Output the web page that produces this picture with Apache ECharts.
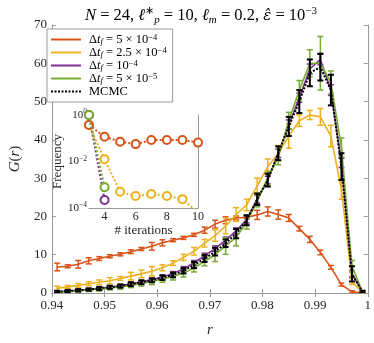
<!DOCTYPE html>
<html><head><meta charset="utf-8">
<script src="https://cdn.jsdelivr.net/npm/echarts@6/dist/echarts.min.js"></script>
<style>html,body{margin:0;padding:0;background:#fff}#c{width:374px;height:343px}</style>
</head><body><div id="c"></div>
<script>
// ---- data ----
const r = [0.941,0.943,0.945,0.947,0.949,0.951,0.953,0.955,0.957,0.959,0.961,0.963,0.965,0.967,0.969,0.971,0.973,0.975,0.977,0.979,0.981,0.983,0.985,0.987,0.989,0.991,0.993,0.995,0.997,0.999];
const gOrange = [6.8,7.0,7.5,8.4,9.0,9.6,10.1,10.8,11.5,12.2,13.1,13.8,14.4,15.2,16.4,18.0,19.0,19.6,19.8,20.4,21.3,20.5,19.6,16.8,14.0,10.6,6.7,2.2,0.3,0.0];
const eOrange = [1.0,0.4,1.0,0.8,0.5,0.4,0.4,0.5,0.4,1.0,0.8,0.4,0.4,0.4,0.8,1.0,0.9,0.5,0.4,1.2,1.2,1.2,0.9,0.6,0.8,0.6,0.5,0.4,0.3,0.1];
const gYellow = [1.2,1.6,2.0,2.4,2.8,3.2,3.8,4.4,5.0,5.7,6.6,7.8,9.3,10.9,13.0,15.0,17.5,20.5,23.0,28.0,33.0,36.5,41.0,45.0,46.5,46.0,41.0,27.0,3.0,0.1];
const eYellow = [0.6,0.4,0.5,0.5,0.6,0.8,0.5,1.0,1.0,1.2,0.8,0.6,0.8,1.0,1.0,1.5,2.0,1.8,1.5,2.0,2.0,2.0,3.2,1.5,1.2,2.2,2.8,2.5,0.8,0.1];
const gPurple = [0.3,0.5,0.7,0.9,1.2,1.5,1.9,2.4,2.9,3.5,4.2,5.1,6.3,7.9,9.7,11.6,13.8,16.2,19.2,24.5,29.5,36.5,44.0,51.0,58.5,61.0,53.0,34.0,5.0,0.3];
const ePurple = [0.2,0.2,0.3,0.3,0.3,0.3,0.4,0.4,0.4,0.5,0.5,0.5,0.6,0.6,0.7,0.7,0.8,0.8,0.9,1.0,1.0,1.1,1.2,1.2,1.3,1.4,1.4,1.2,0.8,0.2];
const gGreen = [0.2,0.4,0.6,0.8,1.0,1.3,1.6,2.0,2.5,3.0,3.6,4.3,5.2,6.5,8.3,10.0,12.3,14.5,18.5,24.0,30.0,35.5,45.0,53.0,60.0,60.0,55.0,38.0,7.0,0.3];
const eGreen = [0.3,0.3,0.4,0.4,0.5,0.5,0.6,0.6,0.7,0.8,0.8,0.9,1.0,1.0,1.2,1.8,2.2,2.2,1.8,1.5,1.8,2.0,2.2,2.5,3.5,7.0,3.0,2.5,1.5,0.3];
const gBlack = [0.3,0.5,0.7,0.9,1.2,1.5,1.8,2.3,2.8,3.3,4.0,4.7,5.8,7.3,9.0,10.8,13.0,15.5,19.0,24.5,29.5,36.5,43.5,50.0,57.5,59.0,53.0,33.0,5.0,0.3];
const eBlack = [0.3,0.3,0.3,0.3,0.4,0.4,0.4,0.5,0.5,0.5,0.6,0.6,0.7,0.8,0.9,1.0,1.0,1.2,1.3,1.5,1.7,1.8,2.5,3.0,3.5,3.5,4.0,3.5,2.0,0.3];

const xTicks = [0.94,0.95,0.96,0.97,0.98,0.99,1];
const yTicks = [0,10,20,30,40,50,60,70];

// inset
const iters = [3,4,5,6,7,8,9,10];
const itTicks = [4,6,8,10];
const fTicks = [1e-4,1e-2,1];
const fOrange = [0.37,0.117,0.071,0.056,0.084,0.084,0.084,0.065];
const fYellow = [0.37,0.0124,5.0e-4,3.3e-4,4.0e-4,3.3e-4,2.4e-4,6.5e-5];
const fPurple = [1.0,2.2e-4];
const fGreen = [1.0,7.8e-4];

const C = {o:'#D95319', y:'#EDB120', p:'#7E2F8E', g:'#77AC30', k:'#000000'};
const FF = 'Liberation Serif';
const AX = '#9a9a9a';
const TXT = '#262626';

const chart = echarts.init(document.getElementById('c'), null, {renderer:'canvas'});

function errSeries(vals, errs, color, width, z) {
  return {
    type:'custom', name:'_e', xAxisIndex:0, yAxisIndex:0, z:z, clip:true, silent:true,
    data: r.map((x,i)=>[x, vals[i], errs[i]]),
    encode:{x:0,y:1},
    renderItem: function(params, api){
      const x = api.value(0), v = api.value(1), e = api.value(2);
      const t = api.coord([x, v+e]), b = api.coord([x, v-e]);
      const hw = 3;
      const st = {stroke: color, lineWidth: width, fill: null};
      return {type:'group', children:[
        {type:'line', shape:{x1:t[0],y1:t[1],x2:b[0],y2:b[1]}, style:st},
        {type:'line', shape:{x1:t[0]-hw,y1:t[1],x2:t[0]+hw,y2:t[1]}, style:st},
        {type:'line', shape:{x1:b[0]-hw,y1:b[1],x2:b[0]+hw,y2:b[1]}, style:st}
      ]};
    }
  };
}
function lineSeries(name, vals, color, width, type, z) {
  return {type:'line', name:name, xAxisIndex:0, yAxisIndex:0, z:z,
    data: r.map((x,i)=>[x, vals[i]]), symbol:'none', smooth:false, clip:true,
    lineStyle:{color:color, width:width, type:type}, itemStyle:{color:color}};
}
function insetSeries(vals, color, z) {
  return {type:'line', name:'_i', xAxisIndex:2, yAxisIndex:2, z:z, clip:true,
    data: vals.map((v,i)=>[iters[i], v]), symbol:'emptyCircle', symbolSize:8,
    lineStyle:{color:color, width:2, type:[2,2]}, itemStyle:{color:color, borderColor:color, borderWidth:1.6}};
}

const sup = (s)=>'{sup|'+s+'}';
const legendNames = {
  s1: '{d|Δ}{i|t}{sub|f}{n| = 5 × 10}'+sup('−4'),
  s2: '{d|Δ}{i|t}{sub|f}{n| = 2.5 × 10}'+sup('−4'),
  s3: '{d|Δ}{i|t}{sub|f}{n| = 10}'+sup('−4'),
  s4: '{d|Δ}{i|t}{sub|f}{n| = 5 × 10}'+sup('−5'),
  s5: '{d|MCMC}'
};

const tickLabel = {fontFamily:FF, fontSize:13, color:TXT};

const option = {
  animation:false,
  backgroundColor:'#fff',
  title:{
    text:'{i|N}{n| = 24, }{i|ℓ}{sup|∗}{sub|p}{n| = 10, }{i|ℓ}{sub|m}{n| = 0.2, }{e|ε̂}{n| = 10}{sup|−3}',
    left:80, top:1,
    textStyle:{fontFamily:FF, fontSize:16.5, fontWeight:'normal', color:'#000', lineHeight:20,
      rich:{
        n:{fontFamily:FF, fontSize:16.5, lineHeight:20, color:'#000'},
        i:{fontFamily:FF, fontSize:16.5, fontStyle:'italic', lineHeight:20, color:'#000'},
        e:{fontFamily:'DejaVu Serif', fontSize:15, fontStyle:'italic', lineHeight:20, color:'#000'},
        sup:{fontFamily:FF, fontSize:11, lineHeight:10, verticalAlign:'top', color:'#000'},
        sub:{fontFamily:FF, fontSize:11, fontStyle:'italic', lineHeight:10, verticalAlign:'bottom', color:'#000'}
      }}
  },
  legend:{
    data:['s1','s2','s3','s4','s5'], orient:'vertical', left:47, top:29,
    padding:[4,6,4,3], itemGap:0, itemWidth:30, itemHeight:13,
    backgroundColor:'#fff', borderColor:AX, borderWidth:1,
    itemStyle:{opacity:0, borderWidth:0},
    formatter:(n)=>legendNames[n],
    textStyle:{fontFamily:FF, fontSize:12.5, color:'#000', lineHeight:13,
      rich:{
        n:{fontFamily:FF, fontSize:12.5, lineHeight:13, color:'#000'},
        d:{fontFamily:FF, fontSize:12.5, lineHeight:13, color:'#000', padding:[0,0,0,3]},
        i:{fontFamily:FF, fontSize:12.5, fontStyle:'italic', lineHeight:13, color:'#000'},
        sup:{fontFamily:FF, fontSize:8.5, lineHeight:7, verticalAlign:'top', color:'#000'},
        sub:{fontFamily:FF, fontSize:8.5, fontStyle:'italic', lineHeight:7, verticalAlign:'bottom', color:'#000'}
      }}
  },
  grid:[
    {left:41, top:25, width:329, height:273, show:false},
    {left:89, top:115, width:109, height:93, show:true, backgroundColor:'#fff', borderWidth:0, z:3}
  ],
  xAxis:[
    {type:'value', gridIndex:0, min:0.94, max:1, interval:0.01, position:'bottom',
      name:'r', nameLocation:'middle', nameGap:30,
      nameTextStyle:{fontFamily:FF, fontSize:15, fontStyle:'italic', color:TXT},
      axisLine:{show:true, lineStyle:{color:AX, width:1}},
      axisTick:{show:true, inside:true, length:4, lineStyle:{color:AX}},
      axisLabel:{...tickLabel, margin:6, formatter:(v)=>Math.abs(v-1)<1e-9?'1':v.toFixed(2)},
      splitLine:{show:false}},
    {type:'value', gridIndex:0, min:0.94, max:1, interval:0.01, position:'top',
      axisLine:{show:true, lineStyle:{color:AX, width:1}},
      axisTick:{show:true, inside:true, length:4, lineStyle:{color:AX}},
      axisLabel:{show:false}, splitLine:{show:false}},
    {type:'value', gridIndex:1, min:3, max:10, position:'bottom',
      name:'# iterations', nameLocation:'middle', nameGap:16,
      nameTextStyle:{fontFamily:FF, fontSize:13, color:TXT},
      axisLine:{show:true, lineStyle:{color:AX, width:1}},
      axisTick:{show:true, inside:true, length:3, lineStyle:{color:AX}, customValues:itTicks},
      axisLabel:{fontFamily:FF, fontSize:12, color:TXT, margin:3, customValues:itTicks},
      splitLine:{show:false}},
    {type:'value', gridIndex:1, min:3, max:10, position:'top',
      axisLine:{show:true, lineStyle:{color:AX, width:1}},
      axisTick:{show:true, inside:true, length:3, lineStyle:{color:AX}, customValues:itTicks},
      axisLabel:{show:false}, splitLine:{show:false}}
  ],
  yAxis:[
    {type:'value', gridIndex:0, min:0, max:70, interval:10, position:'left',
      name:'{i|G}{n|(}{i|r}{n|)}', nameLocation:'middle', nameGap:27, nameRotate:90,
      nameTextStyle:{fontFamily:FF, fontSize:15, color:TXT,
        rich:{i:{fontFamily:FF, fontSize:15, fontStyle:'italic', color:TXT}, n:{fontFamily:FF, fontSize:15, color:TXT}}},
      axisLine:{show:true, lineStyle:{color:AX, width:1}},
      axisTick:{show:true, inside:true, length:4, lineStyle:{color:AX}},
      axisLabel:{...tickLabel, margin:5}, splitLine:{show:false}},
    {type:'value', gridIndex:0, min:0, max:70, interval:10, position:'right',
      axisLine:{show:true, lineStyle:{color:AX, width:1}},
      axisTick:{show:true, inside:true, length:4, lineStyle:{color:AX}},
      axisLabel:{show:false}, splitLine:{show:false}},
    {type:'log', logBase:10, gridIndex:1, min:1e-4, max:1, position:'left',
      name:'Frequency', nameLocation:'middle', nameGap:19, nameRotate:90,
      nameTextStyle:{fontFamily:FF, fontSize:13, color:TXT},
      axisLine:{show:true, lineStyle:{color:AX, width:1}},
      axisTick:{show:true, inside:true, length:3, lineStyle:{color:AX}},
      axisLabel:{fontFamily:FF, fontSize:11, color:TXT, margin:2, customValues:fTicks,
        formatter:(v)=>'{n|10}{sup|'+String(Math.round(Math.log10(v))).replace('-','−')+'}',
        rich:{n:{fontFamily:FF, fontSize:11, lineHeight:13, color:TXT}, sup:{fontFamily:FF, fontSize:7.5, lineHeight:7, verticalAlign:'top', color:TXT}}},
      splitLine:{show:false}},
    {type:'log', logBase:10, gridIndex:1, min:1e-4, max:1, position:'right',
      axisLine:{show:true, lineStyle:{color:AX, width:1}},
      axisTick:{show:true, inside:true, length:3, lineStyle:{color:AX}},
      axisLabel:{show:false}, splitLine:{show:false}}
  ],
  series:[
    lineSeries('s1', gOrange, C.o, 1.6, 'solid', 2),
    errSeries(gOrange, eOrange, C.o, 1.5, 2),
    lineSeries('s2', gYellow, C.y, 1.6, 'solid', 2),
    errSeries(gYellow, eYellow, C.y, 1.5, 2),
    lineSeries('s3', gPurple, C.p, 1.6, 'solid', 2),
    errSeries(gPurple, ePurple, C.p, 1.5, 2),
    lineSeries('s4', gGreen, C.g, 1.6, 'solid', 2),
    errSeries(gGreen, eGreen, C.g, 1.5, 2),
    lineSeries('s5', gBlack, C.k, 2, [2,1.5], 3),
    errSeries(gBlack, eBlack, C.k, 2, 3),
    insetSeries(fYellow, C.y, 5),
    insetSeries(fOrange, C.o, 6),
    insetSeries(fPurple, C.p, 7),
    insetSeries(fGreen, C.g, 8)
  ]
};
chart.setOption(option);
</script></body></html>
